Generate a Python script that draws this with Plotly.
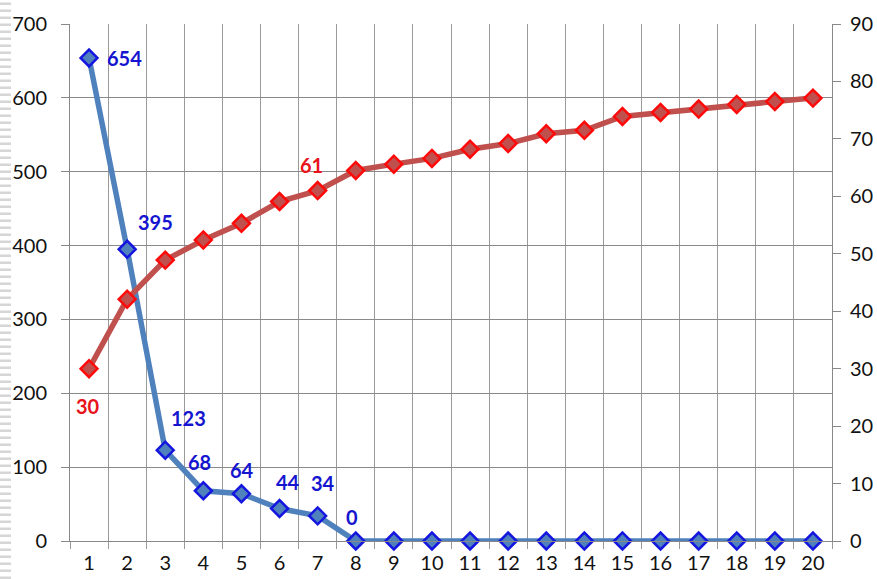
import plotly.graph_objects as go

x = list(range(1, 21))
blue_vals = [654, 395, 123, 68, 64, 44, 34, 0, 0, 0, 0, 0, 0, 0, 0, 0, 0, 0, 0, 0]
red_vals = [30, 42.1, 48.9, 52.4, 55.3, 59.1, 61, 64.5, 65.6, 66.6, 68.2, 69.2, 70.9, 71.5, 73.9, 74.6, 75.2, 76.0, 76.5, 77.1]
x_tick_labels = [str(v) for v in x]

# which points carry a data label (index -> label text from the data)
blue_label_idx = [0, 1, 2, 3, 4, 5, 6, 7]
red_label_idx = [0, 6]
# label offsets in pixels (style only)
blue_offsets = [(35, 0), (28, 27), (23, 32), (-4, 29), (1, 24), (8, 27), (5, 33), (-4, 24)]
red_offsets = [(-1, -37), (-6, 26)]

FONT = "Lato"
BLUE_TXT = "#1515D0"
RED_TXT = "#E8141C"
W, H = 877, 579
ML, MR, MT, MB = 70, 45, 24, 38

fig = go.Figure()
fig.add_trace(go.Scatter(
    x=x, y=blue_vals, mode="lines+markers",
    line=dict(color="#4F81BD", width=5.5),
    marker=dict(symbol="diamond", size=13, color="#4F81BD", line=dict(color="#1515E0", width=2.5)),
    cliponaxis=False, showlegend=False, hoverinfo="skip",
))
fig.add_trace(go.Scatter(
    x=x, y=red_vals, mode="lines+markers", yaxis="y2",
    line=dict(color="#C0504D", width=5.5),
    marker=dict(symbol="diamond", size=13, color="#C0504D", line=dict(color="#FF0A0A", width=2.5)),
    cliponaxis=False, showlegend=False, hoverinfo="skip",
))

for i, (dx, dy) in zip(blue_label_idx, blue_offsets):
    fig.add_annotation(x=x[i], y=blue_vals[i], xref="x", yref="y",
                       text="<b>%g</b>" % blue_vals[i], showarrow=False,
                       xshift=dx, yshift=dy,
                       font=dict(family=FONT, size=20, color=BLUE_TXT))
for i, (dx, dy) in zip(red_label_idx, red_offsets):
    fig.add_annotation(x=x[i], y=red_vals[i], xref="x", yref="y2",
                       text="<b>%g</b>" % round(red_vals[i]), showarrow=False,
                       xshift=dx, yshift=dy,
                       font=dict(family=FONT, size=20, color=RED_TXT))

# decorative striped border at the left edge
plot_h = H - MT - MB
fig.add_shape(type="line", xref="paper", yref="paper", xsizemode="pixel", xanchor=0,
              x0=-(ML - 5.5), x1=-(ML - 5.5), y0=-MB / plot_h, y1=1 + MT / plot_h,
              line=dict(color="#d6d6d6", width=11, dash="2.5px,4.5px"), layer="below")

fig.update_layout(
    width=W, height=H,
    margin=dict(l=ML, r=MR, t=MT, b=MB),
    paper_bgcolor="white", plot_bgcolor="white",
    font=dict(family=FONT, size=20, color="#111111"),
    hovermode=False,
    xaxis=dict(
        range=[0.5, 20.5], tickmode="array", tickvals=x, ticktext=x_tick_labels,
        showgrid=False, zeroline=False, showline=True, linecolor="#888888", linewidth=1,
        ticks="", ticklabelstandoff=4, automargin=False,
        minor=dict(tick0=0.5, dtick=1, showgrid=True, gridcolor="#9a9a9a", gridwidth=1,
                   ticks="outside", ticklen=7, tickcolor="#9a9a9a"),
        fixedrange=True,
    ),
    yaxis=dict(
        range=[0, 700], dtick=100, showgrid=True, gridcolor="#8a8a8a", gridwidth=1,
        zeroline=False, showline=True, linecolor="#888888", linewidth=1, automargin=False,
        ticks="outside", ticklen=8, tickcolor="#888888", ticklabelstandoff=10,
    ),
    yaxis2=dict(
        range=[0, 90], dtick=10, overlaying="y", side="right", showgrid=False,
        zeroline=False, showline=True, linecolor="#888888", linewidth=1, automargin=False,
        ticks="outside", ticklen=8, tickcolor="#888888", ticklabelstandoff=5,
    ),
)

fig.write_html("out.html", config={"displayModeBar": False},
               post_script="document.body.style.margin='0';")
